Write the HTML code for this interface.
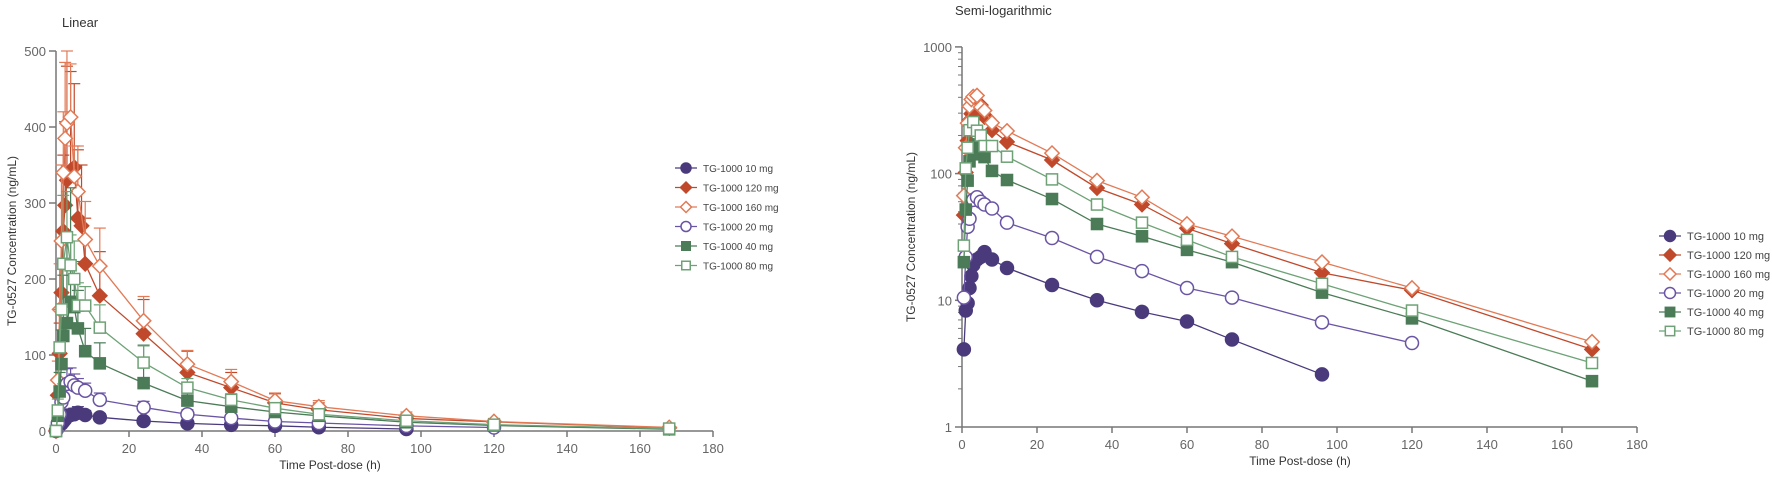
<!DOCTYPE html>
<html><head><meta charset="utf-8"><style>
body{margin:0;background:#fff;}
svg{display:block;font-family:"Liberation Sans",Arial,sans-serif;}
</style></head><body>
<svg id="c" width="1772" height="481" viewBox="0 0 1772 481"></svg>
<script>
const names=["TG-1000 10 mg","TG-1000 120 mg","TG-1000 160 mg","TG-1000 20 mg","TG-1000 40 mg","TG-1000 80 mg"];
const t10=[0,0.5,1,1.5,2,2.5,3,4,5,6,8,12,24,36,48,60,72,96];
const v10=[0.5,4.1,8.3,9.5,12.5,15.5,19,21,22,24,21,18,13.2,10,8.1,6.8,4.9,2.6];
const sd10=[0,2,3,4,5,6,7,8,8,8,6,5,4,3,3,2,2,1];
const t120=[0,0.5,1,1.5,2,2.5,3,4,5,6,7,8,12,24,36,48,60,72,96,120,168];
const v120=[0,47,102,182,263,297,330,343,347,280,270,220,178,128,77,57,37,28,16.5,12,4.1];
const sd120=[0,20,40,70,100,110,150,130,110,90,80,60,58,45,28,20,12,9,6,4,2];
const t160=[0,0.5,1,1.5,2,2.5,3,4,5,6,8,12,24,36,48,60,72,96,120,168];
const v160=[0,67,160,250,340,385,405,413,335,315,252,217,145,88,65,40,32,20,12.5,4.7];
const sd160=[0,25,60,100,80,100,95,70,40,60,50,50,32,18,16,10,8,5,4,2];
const t20=[0,0.5,1,1.5,2,3,4,5,6,8,12,24,36,48,60,72,96,120];
const v20=[0,10.5,22,38,44,62,65,60,57,53,41,31,22,17,12.5,10.5,6.7,4.6];
const sd20=[0,5,10,15,18,20,18,15,12,10,9,8,6,5,4,3,2,2];
const t40=[0,0.5,1,1.5,2,3,4,5,6,8,12,24,36,48,60,72,96,120,168];
const v40=[0,20,52,88,125,142,170,163,135,105,89,63,40,32,25,20,11.5,7.2,2.3];
const sd40=[0,10,25,45,80,120,150,60,50,30,27,50,12,8,6,5,3,2,1];
const t80=[0,0.5,1,1.5,2,3,4,5,6,8,12,24,36,48,60,72,96,120,168];
const v80=[0,27,110,160,220,255,218,200,165,165,136,90,57,41,30,22,13.5,8.3,3.2];
const sd80=[0,15,50,60,90,60,40,50,30,25,30,22,12,8,6,5,3,2,1];
const xTicks=[0,20,40,60,80,100,120,140,160,180];
const linTicks=[0,100,200,300,400,500];
const logTicks=[1,10,100,1000];

const S=[
 {t:t10,v:v10,sd:sd10,col:"#4a3a7c",shape:"circle",fill:true},
 {t:t120,v:v120,sd:sd120,col:"#c0492c",shape:"diamond",fill:true},
 {t:t160,v:v160,sd:sd160,col:"#e27a56",shape:"diamond",fill:false},
 {t:t20,v:v20,sd:sd20,col:"#6a54a4",shape:"circle",fill:false},
 {t:t40,v:v40,sd:sd40,col:"#4b7b57",shape:"square",fill:true},
 {t:t80,v:v80,sd:sd80,col:"#6ea276",shape:"square",fill:false}];
const svg=document.getElementById('c');
const NS="http://www.w3.org/2000/svg";
function mk(tag,at,parent){const e=document.createElementNS(NS,tag);for(const k in at)e.setAttribute(k,at[k]);(parent||svg).appendChild(e);return e;}
function txt(s,at,parent){const e=mk('text',at,parent);e.textContent=s;return e;}
function marker(g,s,x,y,r){
 const f=s.fill?s.col:"#fff";let e;
 if(s.shape==="circle")e=mk('circle',{cx:x,cy:y,r:r,fill:f,stroke:s.col,'stroke-width':1.5},g);
 else if(s.shape==="square")e=mk('rect',{x:x-r*0.85,y:y-r*0.85,width:r*1.7,height:r*1.7,fill:f,stroke:s.col,'stroke-width':1.5},g);
 else e=mk('polygon',{points:`${x},${y-r*1.1} ${x+r*1.1},${y} ${x},${y+r*1.1} ${x-r*1.1},${y}`,fill:f,stroke:s.col,'stroke-width':1.5},g);
 
 
}
function chart(cfg){
 const g=mk('g',{});
 
 
 const X=x=>cfg.x0+x*cfg.xs;
 const Y=cfg.Y;
 mk('line',{x1:cfg.x0,y1:cfg.yTop,x2:cfg.x0,y2:cfg.yBot,stroke:"#777",'stroke-width':1.5},g);
 mk('line',{x1:cfg.x0,y1:cfg.yBot,x2:X(180),y2:cfg.yBot,stroke:"#777",'stroke-width':1.5},g);
 xTicks.forEach(v=>{mk('line',{x1:X(v),y1:cfg.yBot,x2:X(v),y2:cfg.yBot+6,stroke:"#777",'stroke-width':1.5},g);
  const l=txt(v,{x:X(v),y:cfg.yBot+22,'text-anchor':'middle','font-size':13,fill:"#666"},g);});
 cfg.yt.forEach(v=>{mk('line',{x1:cfg.x0-7,y1:Y(v),x2:cfg.x0,y2:Y(v),stroke:"#777",'stroke-width':1.5},g);
  const l=txt(v,{x:cfg.x0-10,y:Y(v)+5,'text-anchor':'end','font-size':13,fill:"#666"},g);});
 if(cfg.log){for(let d=1;d<1000;d*=10)for(let m=2;m<10;m++)mk('line',{x1:cfg.x0-4,y1:Y(d*m),x2:cfg.x0,y2:Y(d*m),stroke:"#777",'stroke-width':1},g);}
 const tt=txt(cfg.title,{x:cfg.tx,y:cfg.ty,'font-size':13,fill:"#333"},g);
 const yt=txt("TG-0527 Concentration (ng/mL)",{x:0,y:0,transform:`translate(${cfg.ytx},${(cfg.yTop+cfg.yBot)/2}) rotate(-90)`,'text-anchor':'middle','font-size':12,fill:"#333"},g);
 const xt=txt("Time  Post-dose (h)",{x:cfg.xtx,y:cfg.yBot+38,'text-anchor':'middle','font-size':12,fill:"#333"},g);
 S.forEach((s,i)=>{
  const sg=mk('g',{},g);
  
  
  const pts=[];
  s.t.forEach((t,j)=>{let v=s.v[j];if(cfg.log&&(v<=0||t<=0))return;pts.push([X(t),Y(v)]);
   if(!cfg.log&&s.sd[j]>0){const y2=Y(v+s.sd[j]);mk('line',{x1:X(t),y1:Y(v),x2:X(t),y2:y2,stroke:s.col,'stroke-width':1.2},sg);mk('line',{x1:X(t)-6,y1:y2,x2:X(t)+6,y2:y2,stroke:s.col,'stroke-width':1.2},sg);}});
  mk('polyline',{points:pts.map(p=>p.join(',')).join(' '),fill:'none',stroke:s.col,'stroke-width':1.3},sg);
  pts.forEach(p=>marker(sg,s,p[0],p[1],cfg.r));
 });
 S.forEach((s,i)=>{
  const y=cfg.ly+i*cfg.lsp;
  const lg=mk('g',{},g);
  
  
  mk('line',{x1:cfg.lx,y1:y,x2:cfg.lx+22,y2:y,stroke:s.col,'stroke-width':1.3},lg);
  marker(lg,s,cfg.lx+11,y,cfg.lr);
  txt(names[i],{x:cfg.lx+28,y:y+4,'font-size':cfg.lf,fill:"#444"},lg);
 });
}
chart({name:'linear-chart',x0:56,xs:3.65,yTop:51,yBot:431,Y:v=>431-v*0.76,yt:linTicks,log:false,title:"Linear",tx:62,ty:27,ytx:16,xtx:330,r:6.5,lx:675,ly:168,lsp:19.5,lr:5,lf:10});
chart({name:'semilog-chart',x0:962,xs:3.75,yTop:47,yBot:427,Y:v=>427-Math.log10(v)*126.7,yt:logTicks,log:true,title:"Semi-logarithmic",tx:955,ty:15,ytx:915,xtx:1300,r:6.5,lx:1659,ly:236,lsp:19,lr:5.5,lf:11});
</script>
</body></html>
